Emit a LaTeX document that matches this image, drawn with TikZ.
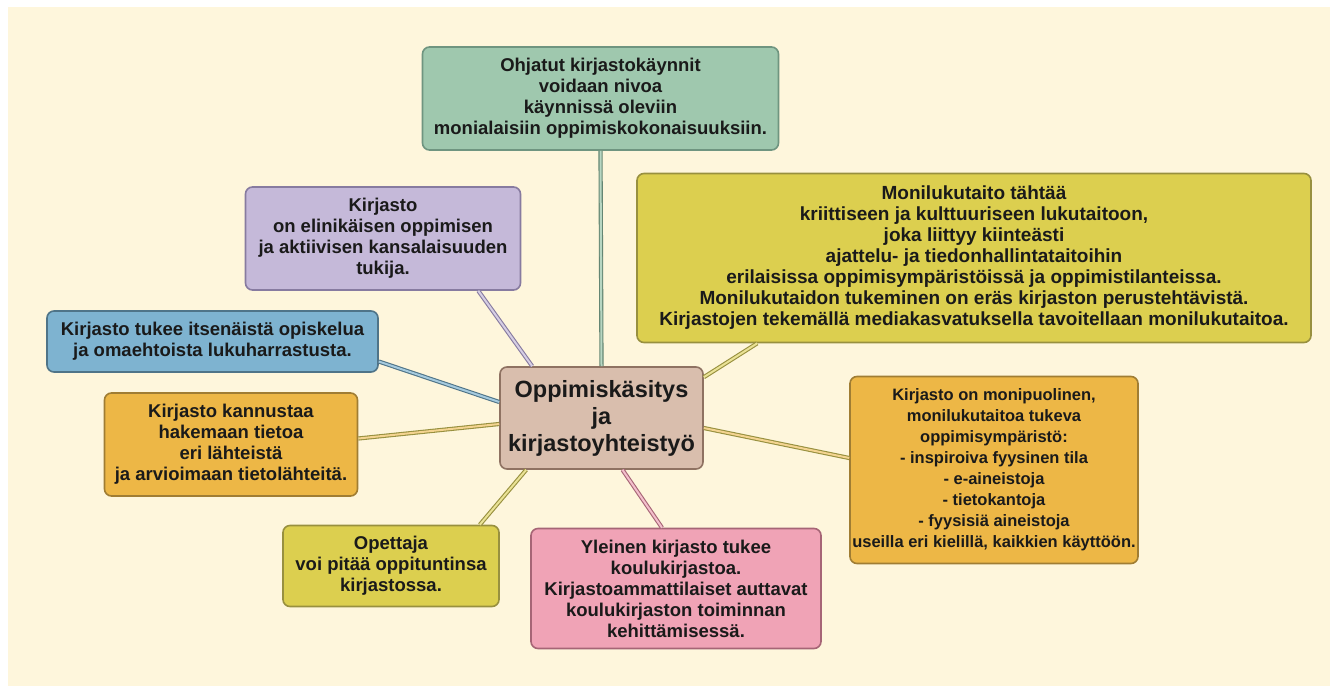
\documentclass[tikz,border=0pt]{standalone}
\usepackage{fontspec}
\setmainfont{Liberation Sans}
\usepackage{xcolor}
\usepackage{tikz}

\definecolor{bgcream}{HTML}{FEF6DC}
\definecolor{txtdark}{HTML}{1A1A1A}
\definecolor{grfill}{HTML}{9FC8AE}
\definecolor{grline}{HTML}{6F9580}
\definecolor{pufill}{HTML}{C5B9D9}
\definecolor{puline}{HTML}{877BA0}
\definecolor{yefill}{HTML}{DCCF4F}
\definecolor{yeline}{HTML}{98903F}
\definecolor{blfill}{HTML}{7EB3D0}
\definecolor{blline}{HTML}{4F7488}
\definecolor{orfill}{HTML}{EDB746}
\definecolor{orline}{HTML}{A07D33}
\definecolor{cefill}{HTML}{D9BEAD}
\definecolor{celine}{HTML}{8F7262}
\definecolor{pifill}{HTML}{F0A3B6}
\definecolor{piline}{HTML}{A66576}

\begin{document}
\begin{tikzpicture}[x=1pt,y=-1pt,
		box/.style={draw,line width=1.6pt,rounded corners=7pt,align=center,inner sep=0pt,
			text=txtdark,font=\bfseries\fontsize{18.5}{21}\selectfont},
		link/.style={line width=1.1pt,double distance=2pt}]
		\useasboundingbox (0,0) rectangle (1330,686);
		\fill[bgcream] (8,7) rectangle (1330,686);

		\node[box,fill=cefill,draw=celine,minimum width=203pt,minimum height=102pt,
			font=\bfseries\fontsize{23.5}{27}\selectfont] (ce) at (601.5,418)
			{Oppimiskäsitys\\ja\\kirjastoyhteistyö};

		\node[box,fill=grfill,draw=grline,minimum width=356pt,minimum height=103pt] (gr) at (600.5,98.5)
			{Ohjatut kirjastokäynnit\\voidaan nivoa\\käynnissä oleviin\\monialaisiin oppimiskokonaisuuksiin.};
		\node[box,fill=pufill,draw=puline,minimum width=275pt,minimum height=103pt] (pu) at (383,238.5)
			{Kirjasto\\on elinikäisen oppimisen\\ja aktiivisen kansalaisuuden\\tukija.};
		\node[box,fill=yefill,draw=yeline,minimum width=674pt,minimum height=169pt,
			font=\bfseries\fontsize{19}{21}\selectfont] (ml) at (974,258)
			{Monilukutaito tähtää\\kriittiseen ja kulttuuriseen lukutaitoon,\\joka liittyy kiinteästi\\ajattelu- ja tiedonhallintataitoihin\\erilaisissa oppimisympäristöissä ja oppimistilanteissa.\\Monilukutaidon tukeminen on eräs kirjaston perustehtävistä.\\Kirjastojen tekemällä mediakasvatuksella tavoitellaan monilukutaitoa.};
		\node[box,fill=blfill,draw=blline,minimum width=331pt,minimum height=61pt] (bl) at (212.5,341.5)
			{Kirjasto tukee itsenäistä opiskelua\\ja omaehtoista lukuharrastusta.};
		\node[box,fill=orfill,draw=orline,minimum width=253pt,minimum height=103pt] (ol) at (231,444.5)
			{Kirjasto kannustaa\\hakemaan tietoa\\eri lähteistä\\ja arvioimaan tietolähteitä.};
		\node[box,fill=orfill,draw=orline,minimum width=288pt,minimum height=187pt,
			font=\bfseries\fontsize{16.5}{21}\selectfont] (or) at (994,470)
			{Kirjasto on monipuolinen,\\monilukutaitoa tukeva\\oppimisympäristö:\\- inspiroiva fyysinen tila\\- e-aineistoja\\- tietokantoja\\- fyysisiä aineistoja\\useilla eri kielillä, kaikkien käyttöön.};
		\node[box,fill=yefill,draw=yeline,minimum width=216pt,minimum height=81pt] (op) at (391,566)
			{Opettaja\\voi pitää oppituntinsa\\kirjastossa.};
		\node[box,fill=pifill,draw=piline,minimum width=290pt,minimum height=120pt] (pi) at (676,588.5)
			{Yleinen kirjasto tukee\\koulukirjastoa.\\Kirjastoammattilaiset auttavat\\koulukirjaston toiminnan\\kehittämisessä.};

		\draw[link,draw=grline!90!black,double=grfill!75] (ce.north) -- (gr.south);
		\draw[link,draw=puline,double=pufill!70] ([xshift=33pt]ce.north west) -- ([xshift=-43pt]pu.south east);
		\draw[link,draw=blline,double=blfill!70] ([yshift=16pt]ce.west) -- ([yshift=-20pt]bl.east);
		\draw[link,draw=yeline,double=orfill!60] ([yshift=-6pt]ce.west) -- ([yshift=6pt]ol.east);
		\draw[link,draw=yeline,double=yefill!60] ([xshift=27pt]ce.south west) -- ([xshift=-20pt]op.north east);
		\draw[link,draw=piline,double=pifill!70] ([xshift=21pt]ce.south) -- ([xshift=-14pt]pi.north);
		\draw[link,draw=yeline,double=yefill!60] ([yshift=-11pt]ce.north east) -- ([xshift=121pt]ml.south west);
		\draw[link,draw=yeline,double=orfill!60] ([yshift=-10pt]ce.east) -- ([yshift=12pt]or.west);
	\end{tikzpicture}
\end{document}
